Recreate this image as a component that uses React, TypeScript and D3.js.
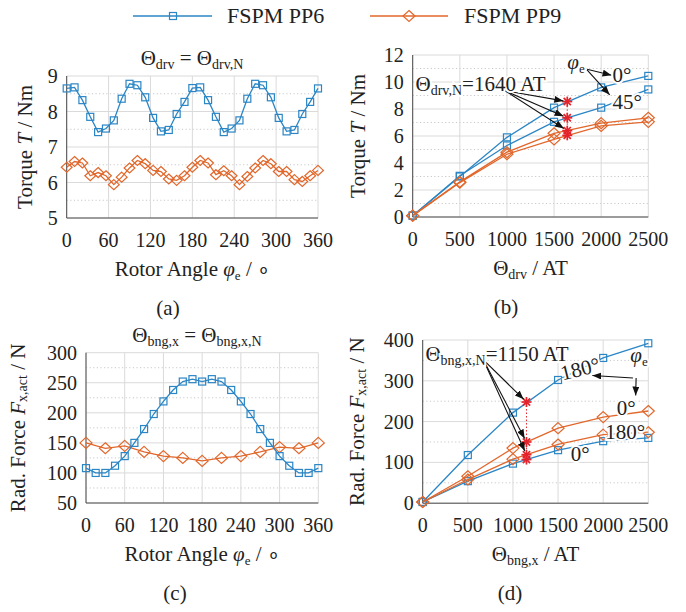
import * as d3 from 'd3';
import React from 'react';

const FONT = "'Liberation Serif', serif";
const BLUE = '#2b86c5';
const ORANGE = '#e2672b';
const RED = '#e4232b';

// (a) torque over rotor angle at rated drive MMF
const angleA = [0, 11.25, 22.5, 33.75, 45, 56.25, 67.5, 78.75, 90, 101.25, 112.5, 123.75, 135, 146.25, 157.5, 168.75,
    180, 191.25, 202.5, 213.75, 225, 236.25, 247.5, 258.75, 270, 281.25, 292.5, 303.75, 315, 326.25, 337.5, 348.75, 360];
const torqueA_PP6 = [8.65, 8.68, 8.32, 7.85, 7.42, 7.52, 7.75, 8.36, 8.78, 8.74, 8.4, 7.82, 7.44, 7.48, 7.93, 8.27,
    8.66, 8.68, 8.32, 7.85, 7.42, 7.52, 7.75, 8.36, 8.78, 8.74, 8.4, 7.82, 7.44, 7.48, 7.93, 8.27, 8.65];
const torqueA_PP9 = [6.43, 6.59, 6.55, 6.19, 6.28, 6.19, 5.94, 6.15, 6.41, 6.62, 6.53, 6.34, 6.31, 6.1, 6.06, 6.19,
    6.43, 6.62, 6.55, 6.22, 6.33, 6.19, 5.94, 6.17, 6.41, 6.62, 6.53, 6.31, 6.31, 6.08, 6.03, 6.19, 6.34];

// (b) torque over drive MMF
const mmfB = [0, 500, 1000, 1500, 2000, 2500];
const torqueB_PP6_0 = [0.1, 3.0, 5.9, 8.1, 9.6, 10.45];
const torqueB_PP6_45 = [0.1, 3.05, 5.3, 7.05, 8.1, 9.45];
const torqueB_PP9_0 = [0.1, 2.6, 4.8, 6.2, 6.95, 7.35];
const torqueB_PP9_45 = [0.1, 2.55, 4.65, 5.75, 6.75, 7.05];
const ratedB = 1640;
const ratedTorqueB = [8.55, 7.35, 6.4, 6.05];

// (c) radial force over rotor angle at rated bearing MMF
const angleC_PP6 = [0, 15, 30, 45, 60, 75, 90, 105, 120, 135, 150, 165, 180, 195, 210, 225, 240, 255, 270, 285, 300, 315, 330, 345, 360];
const forceC_PP6 = [108, 100, 100, 112, 128, 150, 173, 198, 219, 238, 252, 256, 252, 256, 252, 238, 219, 198, 173, 150, 128, 112, 100, 100, 108];
const angleC_PP9 = [0, 30, 60, 90, 120, 150, 180, 210, 240, 270, 300, 330, 360];
const forceC_PP9 = [150, 141, 145, 135, 128, 125, 120, 125, 128, 135, 143, 141, 150];

// (d) radial force over bearing MMF
const mmfD = [0, 500, 1000, 1500, 2000, 2500];
const forceD_PP6_180 = [3, 118, 222, 302, 356, 392];
const forceD_PP6_0 = [3, 54, 97, 130, 152, 160];
const forceD_PP9_0 = [3, 66, 135, 184, 211, 226];
const forceD_PP9_180 = [3, 58, 108, 144, 168, 174];
const ratedD = 1150;
const ratedForceD = [248, 150, 119, 107];

const ticksAngle = [0, 60, 120, 180, 240, 300, 360];
const ticksMmf = [0, 500, 1000, 1500, 2000, 2500];

type Scale = d3.ScaleLinear<number, number>;

interface Series {
    xs: number[];
    ys: number[];
    color: string;
    marker: 'sq' | 'dm';
    size: number;
}

const Marker = ({ type, x, y, color, size }: { type: 'sq' | 'dm'; x: number; y: number; color: string; size: number }) => {
    if (type === 'sq') {
        return <rect x={x - size / 2} y={y - size / 2} width={size} height={size} fill="none" stroke={color} strokeWidth={1.2} />;
    }
    const h = size * 0.6;
    return <path d={`M${x},${y - size / 2 - 0.5}L${x + h},${y}L${x},${y + size / 2 + 0.5}L${x - h},${y}Z`} fill="none" stroke={color} strokeWidth={1.2} />;
};

const Star = ({ x, y }: { x: number; y: number }) => {
    const r = 5;
    const q = 3.6;
    return (
        <g stroke={RED} strokeWidth={1.7}>
            <line x1={x - r} y1={y} x2={x + r} y2={y} />
            <line x1={x} y1={y - r} x2={x} y2={y + r} />
            <line x1={x - q} y1={y - q} x2={x + q} y2={y + q} />
            <line x1={x - q} y1={y + q} x2={x + q} y2={y - q} />
        </g>
    );
};

// arrow that stops a few px short of its target
const Arrow = ({ x1, y1, x2, y2, gap = 3 }: { x1: number; y1: number; x2: number; y2: number; gap?: number }) => {
    const len = Math.hypot(x2 - x1, y2 - y1);
    const ex = x2 - ((x2 - x1) / len) * gap;
    const ey = y2 - ((y2 - y1) / len) * gap;
    return <line x1={x1} y1={y1} x2={ex} y2={ey} stroke="#111" strokeWidth={1.1} markerEnd="url(#arrowHead)" />;
};

// every text carries its own font, so nothing upstream can override it
const T = (props: React.SVGProps<SVGTextElement>) => (
    <text {...props} style={{ fontFamily: FONT, ...(props.style as object) }} />
);

interface PanelProps {
    left: number;
    right: number;
    top: number;
    bottom: number;
    xDomain: [number, number];
    yDomain: [number, number];
    xTicks: number[];
    yTicks: number[];
    yMinor: number[];
    series: Series[];
    xLabel: React.ReactNode;
    yLabel: React.ReactNode;
    yLabelX: number;
    caption: string;
    captionX: number;
    extra?: (x: Scale, y: Scale) => React.ReactNode;
}

const Panel = (p: PanelProps) => {
    const x = d3.scaleLinear().domain(p.xDomain).range([p.left, p.right]);
    const y = d3.scaleLinear().domain(p.yDomain).range([p.bottom, p.top]);
    const midX = (p.left + p.right) / 2;
    const midY = (p.top + p.bottom) / 2;
    return (
        <g>
            {/* grid */}
            {p.yMinor.map(v => (
                <line key={'m' + v} x1={p.left} x2={p.right} y1={y(v)} y2={y(v)} stroke="#c8c8c8" strokeDasharray="1.2,2.4" />
            ))}
            {p.yTicks.map(v => (
                <line key={'y' + v} x1={p.left} x2={p.right} y1={y(v)} y2={y(v)} stroke="#dadada" />
            ))}
            {p.xTicks.map(v => (
                <line key={'x' + v} x1={x(v)} x2={x(v)} y1={p.top} y2={p.bottom} stroke="#dadada" />
            ))}
            <line x1={p.left} x2={p.left} y1={p.top} y2={p.bottom} stroke="#4a4a4a" />
            <line x1={p.left} x2={p.right} y1={p.bottom} y2={p.bottom} stroke="#4a4a4a" />

            {/* tick labels */}
            {p.yTicks.map(v => (
                <T key={'ty' + v} x={p.left - 9} y={y(v)} textAnchor="end" dominantBaseline="central" fontSize={20}>{v}</T>
            ))}
            {p.xTicks.map(v => (
                <T key={'tx' + v} x={x(v)} y={p.bottom + 29} textAnchor="middle" fontSize={20}>{v}</T>
            ))}

            {/* series */}
            {p.series.map((s, i) => {
                const pts: [number, number][] = s.xs.map((v, k) => [x(v), y(s.ys[k])]);
                return (
                    <g key={'s' + i}>
                        <path d={d3.line()(pts) ?? ''} fill="none" stroke={s.color} strokeWidth={1.3} />
                        {pts.map(([px, py], k) => (
                            <Marker key={k} type={s.marker} x={px} y={py} color={s.color} size={s.size} />
                        ))}
                    </g>
                );
            })}

            {p.extra && p.extra(x, y)}

            <T x={midX} y={p.bottom + 58} textAnchor="middle" fontSize={21}>{p.xLabel}</T>
            <T transform={`translate(${p.yLabelX},${midY}) rotate(-90)`} textAnchor="middle" dominantBaseline="central" fontSize={21}>{p.yLabel}</T>
            <T x={p.captionX} y={p.bottom + 97} textAnchor="middle" fontSize={21}>{p.caption}</T>
        </g>
    );
};

const angleLabel = (
    <>Rotor Angle <tspan fontStyle="italic">φ</tspan><tspan fontSize={13} dy={4}>e</tspan><tspan dy={-4}>{' / ∘'}</tspan></>
);
const torqueLabel = <>Torque <tspan fontStyle="italic">T</tspan>{' / Nm'}</>;
const forceLabel = (
    <>Rad. Force <tspan fontStyle="italic">F</tspan><tspan fontSize={14} dy={4}>x,act</tspan><tspan dy={-4}>{' / N'}</tspan></>
);

const halo = { stroke: '#fff', strokeWidth: 4, paintOrder: 'stroke' as const };

const App = () => {
    return (
        <svg width={686} height={612} style={{ position: 'absolute', left: 0, top: 0, background: '#fff' }} fill="#222">
            <style>{`text, tspan { font-family: 'Liberation Serif', serif !important; }`}</style>
            <defs>
                <marker id="arrowHead" markerUnits="userSpaceOnUse" markerWidth={9} markerHeight={7} refX={9} refY={3.5} orient="auto">
                    <path d="M0,0L9,3.5L0,7Z" fill="#111" />
                </marker>
            </defs>

            {/* legend */}
            <g>
                <line x1={133} x2={212} y1={16} y2={16} stroke={BLUE} strokeWidth={1.3} />
                <Marker type="sq" x={173} y={16} color={BLUE} size={7} />
                <T x={227} y={23} fontSize={22}>FSPM PP6</T>
                <line x1={370} x2={448} y1={16} y2={16} stroke={ORANGE} strokeWidth={1.3} />
                <Marker type="dm" x={409} y={16} color={ORANGE} size={10} />
                <T x={464} y={23} fontSize={22}>FSPM PP9</T>
            </g>

            {/* (a) */}
            <T x={192} y={65} textAnchor="middle" fontSize={21}>
                Θ<tspan fontSize={14} dy={4}>drv</tspan><tspan dy={-4}>{' = Θ'}</tspan><tspan fontSize={14} dy={4}>drv,N</tspan>
            </T>
            <Panel
                left={66.7} right={318} top={76} bottom={218}
                xDomain={[0, 360]} yDomain={[5, 9]}
                xTicks={ticksAngle} yTicks={[5, 6, 7, 8, 9]} yMinor={[5.5, 6.5, 7.5, 8.5]}
                series={[
                    { xs: angleA, ys: torqueA_PP6, color: BLUE, marker: 'sq', size: 7 },
                    { xs: angleA, ys: torqueA_PP9, color: ORANGE, marker: 'dm', size: 9 },
                ]}
                xLabel={angleLabel} yLabel={torqueLabel} yLabelX={25}
                caption="(a)" captionX={168}
            />

            {/* (b) */}
            <Panel
                left={412.7} right={648.3} top={55} bottom={217}
                xDomain={[0, 2500]} yDomain={[0, 12]}
                xTicks={ticksMmf} yTicks={[0, 2, 4, 6, 8, 10, 12]} yMinor={[1, 3, 5, 7, 9, 11]}
                series={[
                    { xs: mmfB, ys: torqueB_PP6_0, color: BLUE, marker: 'sq', size: 7 },
                    { xs: mmfB, ys: torqueB_PP6_45, color: BLUE, marker: 'sq', size: 7 },
                    { xs: mmfB, ys: torqueB_PP9_0, color: ORANGE, marker: 'dm', size: 10 },
                    { xs: mmfB, ys: torqueB_PP9_45, color: ORANGE, marker: 'dm', size: 10 },
                ]}
                xLabel={<>Θ<tspan fontSize={14} dy={4}>drv</tspan><tspan dy={-4}>{' / AT'}</tspan></>}
                yLabel={torqueLabel} yLabelX={358}
                caption="(b)" captionX={506}
                extra={(x, y) => (
                    <g>
                        <line x1={x(ratedB)} x2={x(ratedB)} y1={y(d3.min(ratedTorqueB)!)} y2={y(d3.max(ratedTorqueB)!)} stroke={RED} strokeDasharray="1.5,2" />
                        {ratedTorqueB.map((v, i) => <Star key={i} x={x(ratedB)} y={y(v)} />)}
                        {ratedTorqueB.slice(0, 3).map((v, i) => (
                            <Arrow key={'a' + i} x1={x(980)} y1={y(9.35)} x2={x(ratedB)} y2={y(v)} gap={4} />
                        ))}
                        <T x={x(30)} y={y(9.3)} fontSize={21} style={halo}>
                            Θ<tspan fontSize={14} dy={4}>drv,N</tspan><tspan dy={-4}>=1640 AT</tspan>
                        </T>
                        <T x={x(1640)} y={y(11.0)} fontSize={21} fontStyle="italic" style={halo}>
                            φ<tspan fontSize={13} dy={4} fontStyle="normal">e</tspan>
                        </T>
                        <Arrow x1={x(1850)} y1={y(10.95)} x2={x(2110)} y2={y(10.5)} gap={0} />
                        <Arrow x1={x(1850)} y1={y(10.9)} x2={x(2090)} y2={y(9.05)} gap={0} />
                        <T x={x(2120)} y={y(10.5)} dominantBaseline="central" fontSize={21} style={halo}>0°</T>
                        <T x={x(2120)} y={y(8.5)} dominantBaseline="central" fontSize={21} style={halo}>45°</T>
                    </g>
                )}
            />

            {/* (c) */}
            <T x={197} y={342} textAnchor="middle" fontSize={21}>
                Θ<tspan fontSize={14} dy={4}>bng,x</tspan><tspan dy={-4}>{' = Θ'}</tspan><tspan fontSize={14} dy={4}>bng,x,N</tspan>
            </T>
            <Panel
                left={86} right={318.3} top={352.7} bottom={503}
                xDomain={[0, 360]} yDomain={[50, 300]}
                xTicks={ticksAngle} yTicks={[50, 100, 150, 200, 250, 300]} yMinor={[75, 125, 175, 225, 275]}
                series={[
                    { xs: angleC_PP9, ys: forceC_PP9, color: ORANGE, marker: 'dm', size: 10 },
                    { xs: angleC_PP6, ys: forceC_PP6, color: BLUE, marker: 'sq', size: 7 },
                ]}
                xLabel={angleLabel} yLabel={forceLabel} yLabelX={18}
                caption="(c)" captionX={175}
            />

            {/* (d) */}
            <Panel
                left={422.7} right={648.3} top={340} bottom={503.2}
                xDomain={[0, 2500]} yDomain={[0, 400]}
                xTicks={ticksMmf} yTicks={[0, 100, 200, 300, 400]} yMinor={[50, 150, 250, 350]}
                series={[
                    { xs: mmfD, ys: forceD_PP6_180, color: BLUE, marker: 'sq', size: 7 },
                    { xs: mmfD, ys: forceD_PP6_0, color: BLUE, marker: 'sq', size: 7 },
                    { xs: mmfD, ys: forceD_PP9_0, color: ORANGE, marker: 'dm', size: 10 },
                    { xs: mmfD, ys: forceD_PP9_180, color: ORANGE, marker: 'dm', size: 10 },
                ]}
                xLabel={<>Θ<tspan fontSize={14} dy={4}>bng,x</tspan><tspan dy={-4}>{' / AT'}</tspan></>}
                yLabel={forceLabel} yLabelX={357}
                caption="(d)" captionX={510}
                extra={(x, y) => (
                    <g>
                        <line x1={x(ratedD)} x2={x(ratedD)} y1={y(d3.min(ratedForceD)!)} y2={y(d3.max(ratedForceD)!)} stroke={RED} strokeDasharray="1.5,2" />
                        {ratedForceD.map((v, i) => <Star key={i} x={x(ratedD)} y={y(v)} />)}
                        {ratedForceD.slice(0, 3).map((v, i) => (
                            <Arrow key={'a' + i} x1={x(670)} y1={y(352)} x2={x(ratedD)} y2={y(v)} gap={4} />
                        ))}
                        <T x={x(30)} y={y(348)} fontSize={21} style={halo}>
                            Θ<tspan fontSize={14} dy={4}>bng,x,N</tspan><tspan dy={-4}>=1150 AT</tspan>
                        </T>
                        <T x={x(1745)} y={y(329)} textAnchor="middle" dominantBaseline="central" fontSize={21}
                            transform={`rotate(-14,${x(1745)},${y(329)})`} style={halo}>180°</T>
                        <T x={x(2300)} y={y(345)} fontSize={21} fontStyle="italic" style={halo}>
                            φ<tspan fontSize={13} dy={4} fontStyle="normal">e</tspan>
                        </T>
                        <Arrow x1={x(2330)} y1={y(307)} x2={x(1880)} y2={y(313)} gap={0} />
                        <Arrow x1={x(2365)} y1={y(307)} x2={x(2360)} y2={y(264)} gap={0} />
                        <T x={x(2254)} y={y(234)} textAnchor="middle" dominantBaseline="central" fontSize={21} style={halo}>0°</T>
                        <T x={x(2243)} y={y(175)} textAnchor="middle" dominantBaseline="central" fontSize={21} style={halo}>180°</T>
                        <T x={x(1745)} y={y(121)} textAnchor="middle" dominantBaseline="central" fontSize={21} style={halo}>0°</T>
                    </g>
                )}
            />
        </svg>
    );
};

export default App;
